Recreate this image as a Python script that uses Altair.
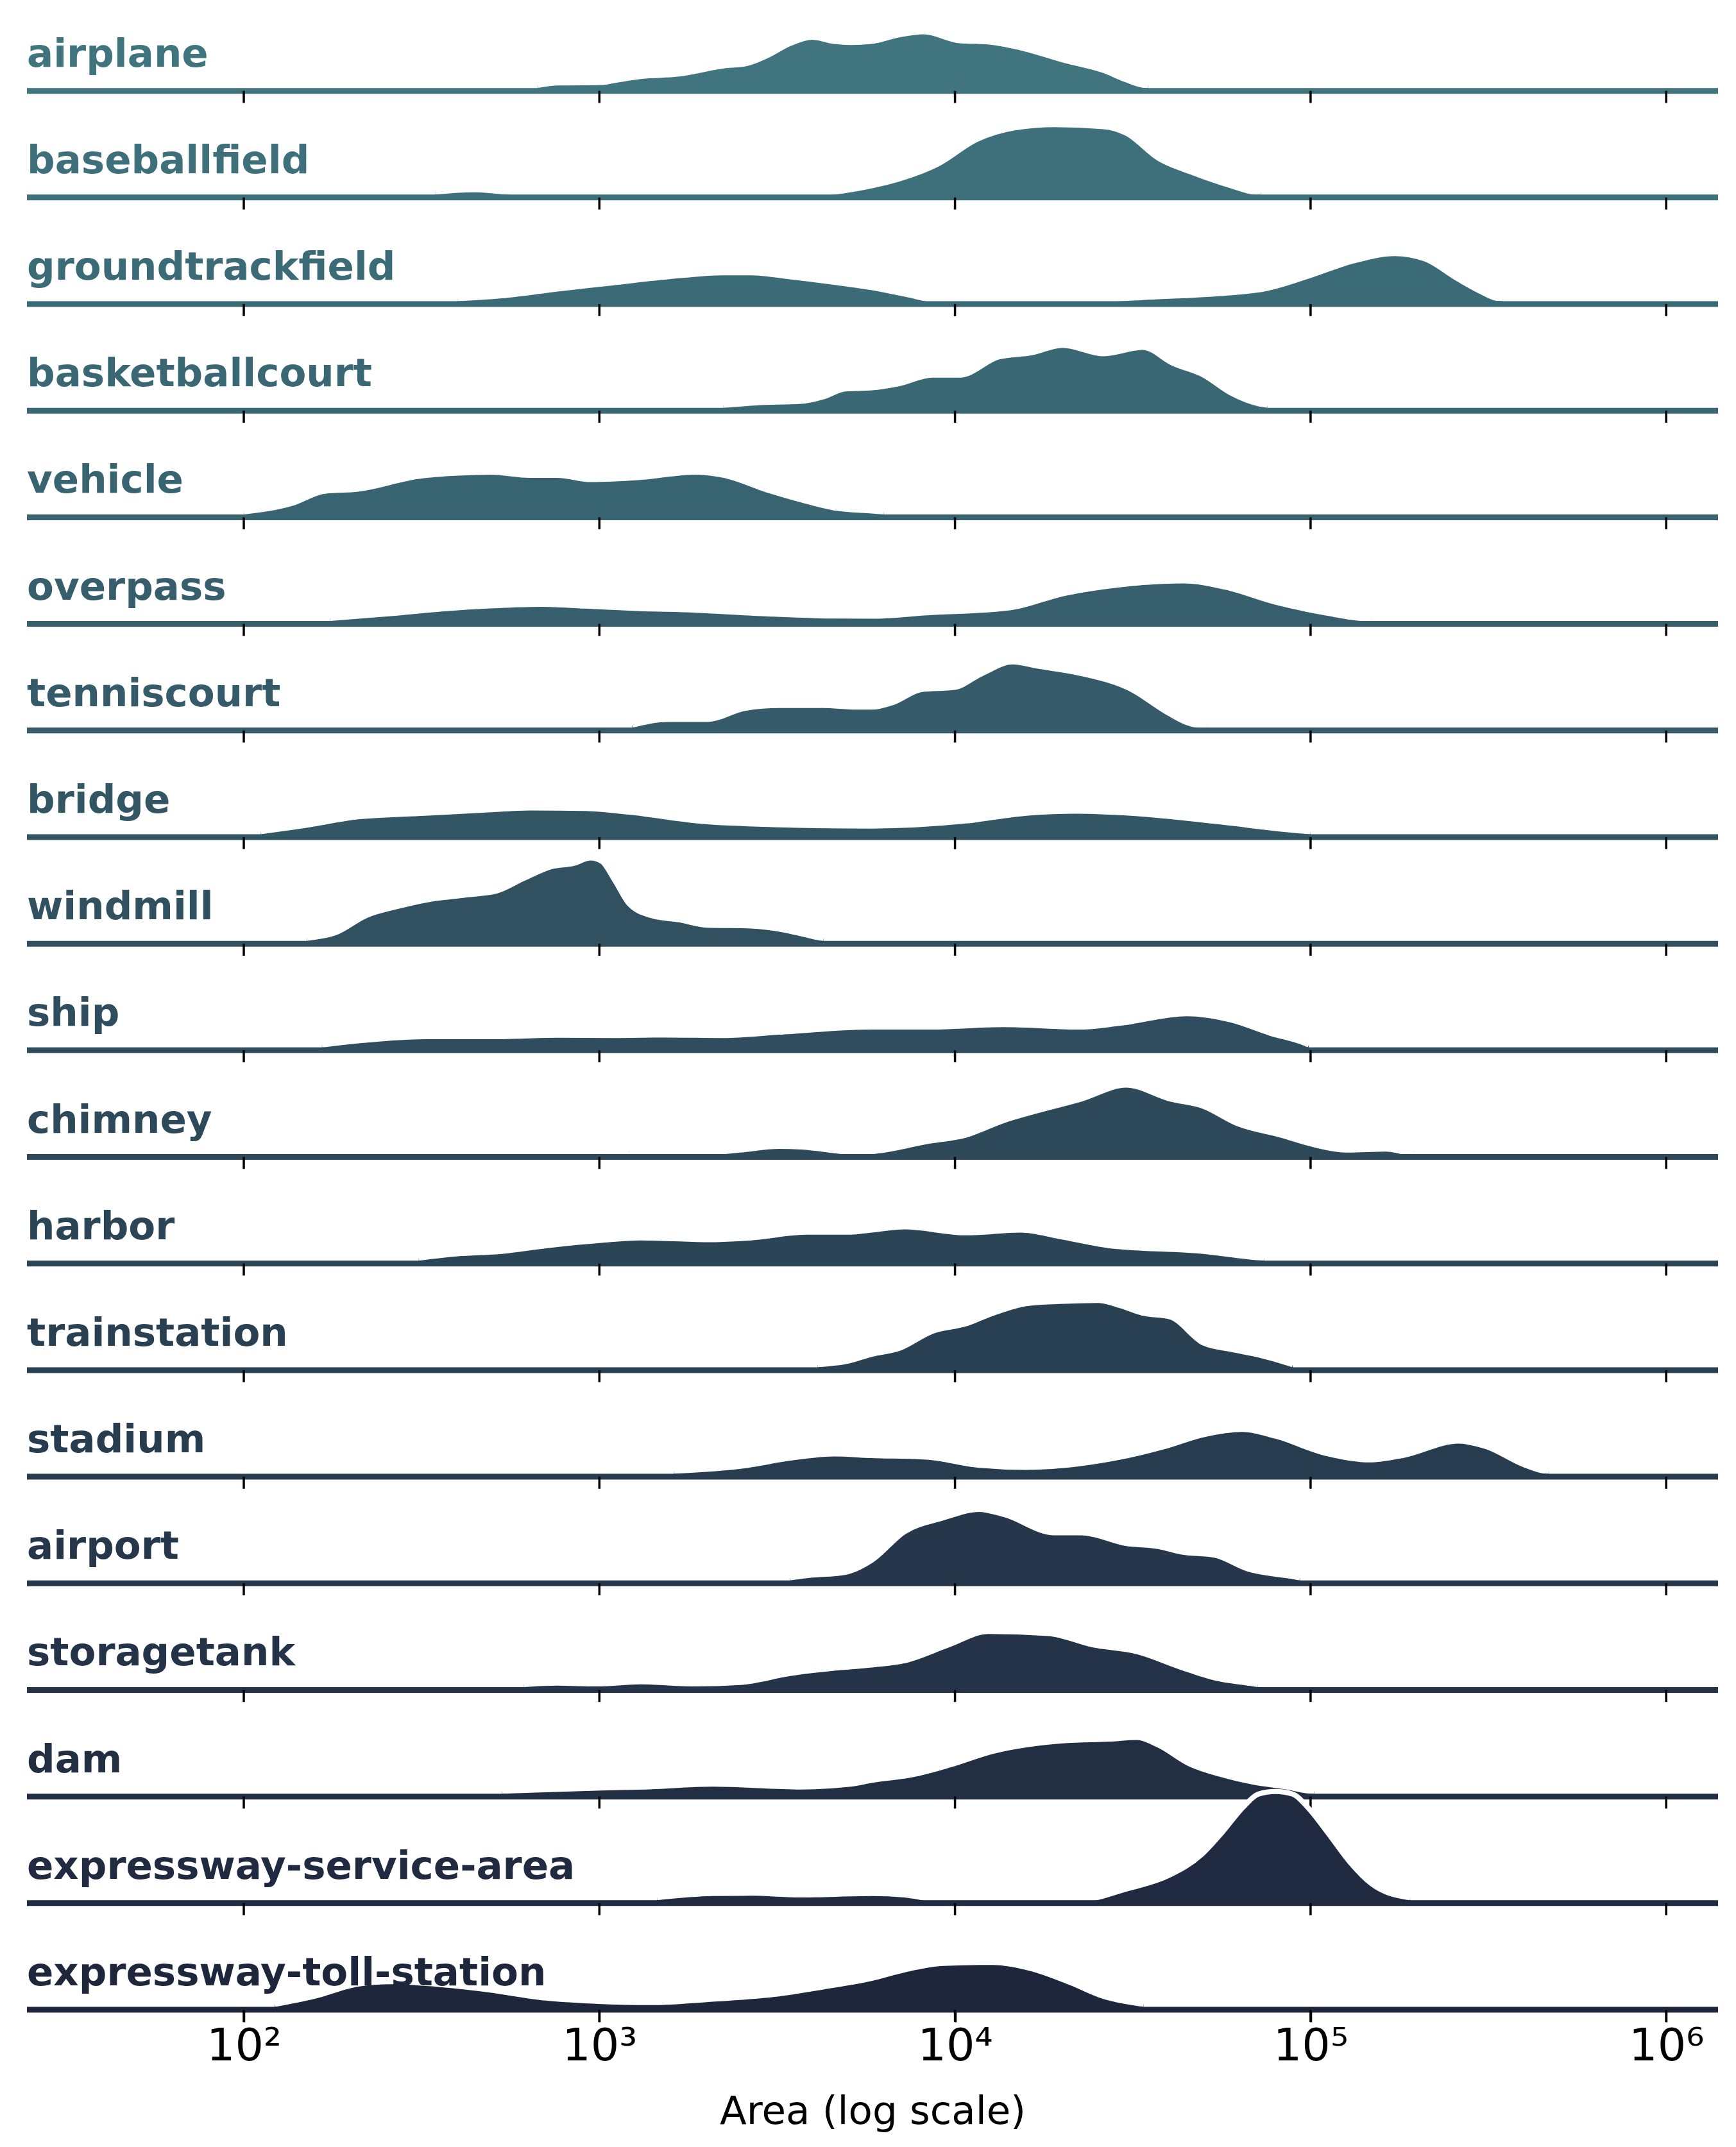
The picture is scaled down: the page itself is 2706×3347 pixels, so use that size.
import altair as alt
import pandas as pd

categories = [
    "airplane", "baseballfield", "groundtrackfield", "basketballcourt", "vehicle",
    "overpass", "tenniscourt", "bridge", "windmill", "ship", "chimney", "harbor",
    "trainstation", "stadium", "airport", "storagetank", "dam",
    "expressway-service-area", "expressway-toll-station",
]

colors = [
    "#40747F", "#3E707B", "#3C6B78", "#3A6774", "#386370", "#375E6C", "#355A69",
    "#335665", "#315161", "#2F4D5E", "#2D495A", "#2B4456", "#294052", "#273C4F",
    "#26374B", "#243347", "#222F43", "#202A40", "#1E263C",
]

tick_values = [100, 1000, 10000, 100000, 1000000]

# density curves: log10(area) positions and ridge heights (in row units)
airplane_x = [2.827, 2.882, 3.006, 3.037, 3.115, 3.224, 3.349, 3.411, 3.474, 3.536, 3.598, 3.660, 3.707, 3.766, 3.84, 3.913, 4.014, 4.092, 4.185, 4.310, 4.419, 4.481, 4.528, 4.543]
airplane_h = [0, .05, .055, .07, .11, .134, .21, .23, .31, .42, .48, .44, .43, .44, .50, .53, .446, .436, .38, .26, .166, .08, .03, 0]

baseballfield_x = [2.539, 2.648, 2.773, 3.037, 3.583, 3.766, 3.843, 3.952, 4.061, 4.170, 4.279, 4.419, 4.481, 4.574, 4.668, 4.777, 4.847, 4.86]
baseballfield_h = [0, .048, .02, .01, .01, .086, .15, .29, .52, .63, .66, .64, .58, .34, .21, .086, .025, 0]

groundtrackfield_x = [2.601, 2.726, 2.882, 3.037, 3.193, 3.349, 3.427, 3.536, 3.660, 3.766, 3.858, 3.960, 4.310, 4.543, 4.855, 4.995, 5.119, 5.236, 5.321, 5.415, 5.477, 5.524, 5.54]
groundtrackfield_h = [0, .054, .118, .175, .232, .27, .27, .232, .18, .13, .07, .01, .01, .04, .11, .24, .38, .45, .40, .21, .096, .03, 0]

basketballcourt_x = [3.349, 3.442, 3.567, 3.629, 3.692, 3.766, 3.843, 3.936, 4.014, 4.123, 4.216, 4.302, 4.419, 4.528, 4.613, 4.699, 4.777, 4.855, 4.878]
basketballcourt_h = [0, .05, .064, .105, .18, .19, .23, .31, .31, .48, .52, .59, .51, .57, .42, .31, .14, .04, 0]

vehicle_x = [2.0, 2.134, 2.227, 2.321, 2.492, 2.601, 2.695, 2.804, 2.882, 2.975, 3.115, 3.271, 3.349, 3.474, 3.567, 3.660, 3.766, 3.80]
vehicle_h = [0, .105, .22, .24, .36, .39, .40, .37, .37, .33, .35, .40, .37, .23, .14, .064, .035, 0]

overpass_x = [2.243, 2.414, 2.570, 2.726, 2.835, 2.960, 3.115, 3.271, 3.474, 3.660, 3.766, 3.921, 4.154, 4.310, 4.465, 4.644, 4.761, 4.901, 5.041, 5.158, 5.17]
overpass_h = [0, .073, .12, .15, .16, .143, .12, .105, .07, .05, .048, .08, .127, .264, .344, .38, .32, .18, .08, .025, 0]

tenniscourt_x = [3.092, 3.193, 3.302, 3.411, 3.505, 3.629, 3.723, 3.766, 3.827, 3.905, 3.998, 4.076, 4.162, 4.232, 4.356, 4.497, 4.590, 4.652, 4.699, 4.71]
tenniscourt_h = [0, .08, .08, .185, .21, .21, .195, .195, .24, .36, .38, .51, .62, .58, .51, .36, .16, .05, .02, 0]

bridge_x = [2.048, 2.181, 2.321, 2.508, 2.679, 2.804, 2.960, 3.084, 3.287, 3.505, 3.766, 4.030, 4.200, 4.341, 4.543, 4.730, 4.987, 5.00]
bridge_h = [0, .09, .166, .2, .23, .25, .245, .21, .124, .092, .08, .127, .2, .22, .188, .124, .03, 0]

windmill_x = [2.178, 2.259, 2.344, 2.445, 2.539, 2.617, 2.710, 2.788, 2.866, 2.928, 2.975, 3.006, 3.045, 3.084, 3.146, 3.224, 3.302, 3.427, 3.520, 3.575, 3.621, 3.63]
windmill_h = [0, .08, .24, .335, .40, .43, .47, .59, .70, .73, .78, .75, .56, .35, .24, .20, .15, .143, .105, .064, .03, 0]

ship_x = [2.220, 2.414, 2.508, 2.726, 2.882, 3.037, 3.193, 3.349, 3.505, 3.766, 3.921, 4.139, 4.356, 4.465, 4.652, 4.777, 4.886, 4.979, 4.995]
ship_h = [0, .09, .105, .105, .118, .115, .12, .115, .146, .194, .194, .217, .194, .23, .32, .26, .137, .048, 0]

chimney_x = [3.084, 3.271, 3.396, 3.505, 3.567, 3.660, 3.723, 3.796, 3.921, 4.030, 4.139, 4.232, 4.356, 4.481, 4.605, 4.699, 4.793, 4.917, 5.010, 5.104, 5.212, 5.274, 5.29]
chimney_h = [0, .01, .04, .075, .07, .035, .015, .038, .12, .18, .32, .41, .52, .65, .52, .45, .29, .18, .09, .04, .05, .02, 0]

harbor_x = [2.492, 2.601, 2.726, 2.850, 3.006, 3.115, 3.302, 3.427, 3.583, 3.707, 3.765, 3.858, 4.030, 4.185, 4.294, 4.434, 4.699, 4.855, 4.87]
harbor_h = [0, .067, .09, .143, .194, .217, .20, .217, .27, .27, .29, .32, .264, .29, .23, .143, .09, .03, 0]

trainstation_x = [3.614, 3.699, 3.765, 3.843, 3.936, 4.030, 4.107, 4.201, 4.294, 4.403, 4.465, 4.528, 4.605, 4.699, 4.777, 4.855, 4.94, 4.95]
trainstation_h = [0, .06, .124, .18, .34, .41, .51, .60, .62, .63, .58, .51, .475, .23, .17, .118, .038, 0]

stadium_x = [3.209, 3.411, 3.536, 3.660, 3.765, 3.921, 4.061, 4.201, 4.450, 4.590, 4.699, 4.808, 4.901, 5.041, 5.166, 5.259, 5.415, 5.493, 5.602, 5.656, 5.67]
stadium_h = [0, .08, .15, .19, .175, .16, .086, .064, .15, .26, .37, .42, .357, .197, .134, .175, .31, .26, .086, .03, 0]

airport_x = [3.536, 3.583, 3.692, 3.765, 3.858, 3.967, 4.068, 4.139, 4.279, 4.356, 4.481, 4.574, 4.636, 4.730, 4.824, 4.948, 4.97]
airport_h = [0, .048, .08, .19, .46, .59, .67, .62, .45, .45, .35, .32, .27, .24, .11, .04, 0]

storagetank_x = [2.788, 2.882, 2.991, 3.115, 3.271, 3.396, 3.536, 3.660, 3.766, 3.858, 3.983, 4.092, 4.263, 4.387, 4.512, 4.637, 4.730, 4.839, 4.85]
storagetank_h = [0, .04, .033, .052, .033, .046, .13, .18, .21, .25, .40, .525, .505, .40, .335, .187, .089, .033, 0]

dam_x = [2.726, 3.006, 3.131, 3.318, 3.567, 3.707, 3.766, 3.889, 3.983, 4.107, 4.310, 4.434, 4.512, 4.571, 4.661, 4.751, 4.841, 4.932, 4.991, 5.01]
dam_h = [0, .056, .066, .092, .066, .092, .128, .187, .27, .40, .50, .515, .53, .46, .28, .18, .11, .066, .03, 0]

service_area_x = [3.162, 3.318, 3.427, 3.567, 3.766, 3.858, 3.952, 4.356, 4.481, 4.601, 4.692, 4.751, 4.811, 4.853, 4.901, 4.950, 4.991, 5.052, 5.112, 5.172, 5.262, 5.28]
service_area_h = [0, .066, .069, .053, .066, .053, .01, .01, .108, .235, .427, .638, .878, .999, 1.023, .999, .878, .62, .355, .156, .036, 0]

toll_station_x = [2.087, 2.196, 2.321, 2.414, 2.539, 2.679, 2.850, 3.006, 3.146, 3.318, 3.505, 3.629, 3.766, 3.858, 3.967, 4.107, 4.216, 4.325, 4.419, 4.512, 4.53]
toll_station_h = [0, .10, .217, .24, .217, .167, .085, .053, .043, .075, .125, .19, .27, .35, .41, .42, .36, .23, .10, .036, 0]

series = {
    "airplane": (airplane_x, airplane_h),
    "baseballfield": (baseballfield_x, baseballfield_h),
    "groundtrackfield": (groundtrackfield_x, groundtrackfield_h),
    "basketballcourt": (basketballcourt_x, basketballcourt_h),
    "vehicle": (vehicle_x, vehicle_h),
    "overpass": (overpass_x, overpass_h),
    "tenniscourt": (tenniscourt_x, tenniscourt_h),
    "bridge": (bridge_x, bridge_h),
    "windmill": (windmill_x, windmill_h),
    "ship": (ship_x, ship_h),
    "chimney": (chimney_x, chimney_h),
    "harbor": (harbor_x, harbor_h),
    "trainstation": (trainstation_x, trainstation_h),
    "stadium": (stadium_x, stadium_h),
    "airport": (airport_x, airport_h),
    "storagetank": (storagetank_x, storagetank_h),
    "dam": (dam_x, dam_h),
    "expressway-service-area": (service_area_x, service_area_h),
    "expressway-toll-station": (toll_station_x, toll_station_h),
}

n = len(categories)
rows = []
for i, cat in enumerate(categories):
    xs, hs = series[cat]
    for x, h in zip(xs, hs):
        rows.append({"cat": cat, "logx": x, "h": h, "base": n - 1 - i})
df = pd.DataFrame(rows)

label_df = pd.DataFrame({"cat": categories, "base": [n - 1 - i for i in range(n)]})
tick_df = pd.DataFrame(
    [{"cat": c, "base": n - 1 - i, "tv": t} for i, c in enumerate(categories) for t in tick_values]
)

xscale = alt.Scale(type="log", domain=[24.56, 1.399e6], nice=False)
yscale = alt.Scale(domain=[0, 18.75], nice=False, zero=False)
label_expr = (
    "datum.value == 100 ? '10²' : datum.value == 1000 ? '10³' : "
    "datum.value == 10000 ? '10⁴' : datum.value == 100000 ? '10⁵' : '10⁶'"
)
xaxis = alt.Axis(values=tick_values, labelExpr=label_expr, title="Area (log scale)")


def X(field):
    return alt.X(field, type="quantitative", scale=xscale, axis=xaxis)


def Y(field):
    return alt.Y(field, type="quantitative", scale=yscale, axis=None)


layers = []
for i, cat in enumerate(categories):
    c = colors[i]
    # ridge top; the white outline (8px) trims 0.024 row units off the fill,
    # and a zero reading sits at the top edge of the thick baseline
    cur = (
        alt.Chart(df)
        .transform_filter(alt.datum.cat == cat)
        .transform_calculate(
            area="pow(10, datum.logx)",
            ytop="datum.base + 0.024 + (datum.h > 0 ? datum.h : 0.027)",
        )
    )
    layers.append(
        cur.mark_area(color=c, interpolate="monotone", opacity=1).encode(
            x=X("area"), y=Y("ytop"), y2=alt.Y2("base")
        )
    )
    layers.append(
        cur.mark_line(color="white", strokeWidth=8, interpolate="monotone").encode(
            x=X("area"), y=Y("ytop")
        )
    )
    layers.append(
        alt.Chart(label_df)
        .transform_filter(alt.datum.cat == cat)
        .mark_rule(color=c, strokeWidth=9)
        .encode(y=Y("base"))
    )
    layers.append(
        alt.Chart(tick_df)
        .transform_filter(alt.datum.cat == cat)
        .transform_calculate(b2="datum.base - 0.113")
        .mark_rule(color="black", strokeWidth=3.5)
        .encode(x=X("tv"), y=Y("base"), y2=alt.Y2("b2"))
    )

labels = alt.Chart(label_df).mark_text(
    align="left", baseline="alphabetic", font="DejaVu Sans", fontWeight="bold",
    fontSize=61, dy=-38, dx=0,
).encode(
    x=alt.value(0),
    y=Y("base"),
    text="cat:N",
    color=alt.Color("cat:N", scale=alt.Scale(domain=categories, range=colors), legend=None),
)
layers.append(labels)

chart = (
    alt.layer(*layers)
    .properties(width=2636, height=3116, padding={"left": 29, "top": 9, "right": 5, "bottom": 5})
    .configure_view(stroke=None)
    .configure_axis(
        labelFont="DejaVu Sans", labelFontSize=70, labelColor="black", labelPadding=4,
        labelFlush=False, tickSize=19, tickWidth=3.5, tickColor="black", domain=False,
        grid=False, titleFont="DejaVu Sans", titleFontSize=61, titleFontWeight="normal",
        titleColor="black", titlePadding=37,
    )
)

chart.save("out.html", embed_options={"renderer": "svg", "actions": False})
